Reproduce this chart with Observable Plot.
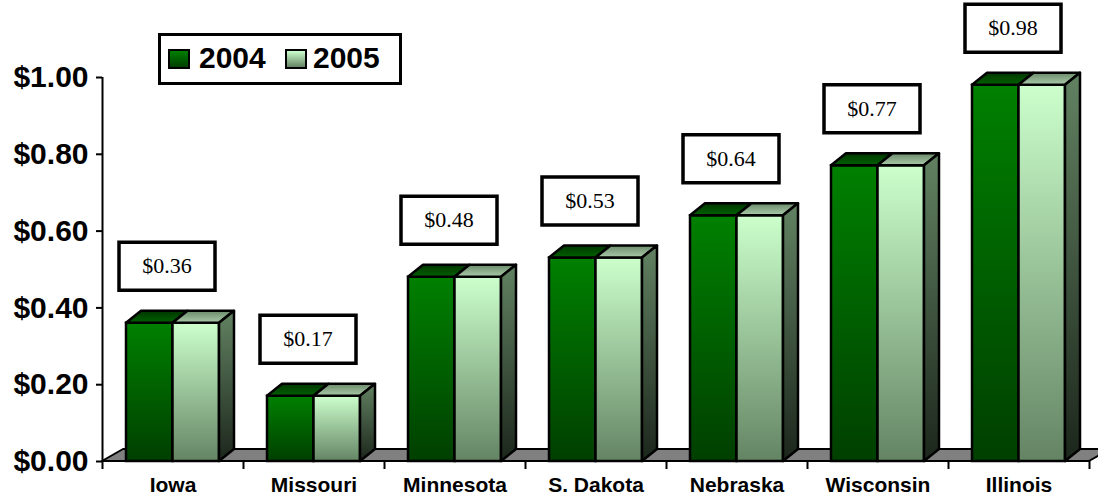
<!DOCTYPE html>
<html><head><meta charset="utf-8">
<script src="https://cdn.jsdelivr.net/npm/d3@7"></script>
<script src="https://cdn.jsdelivr.net/npm/@observablehq/plot@0.6"></script>
<style>
body{margin:0;background:#fff;}
#wrap{position:relative;width:1098px;height:500px;}
#legend{position:absolute;left:158px;top:33px;width:238px;height:46px;border:3px solid #000;background:#fff;font-family:'Liberation Sans',Arial,sans-serif;font-weight:bold;font-size:30px;}
.sw{position:absolute;top:13px;width:18px;height:16px;border:2px solid #000;}
.lt{position:absolute;top:5px;line-height:34px;}
</style>
</head><body>
<div id="wrap">
<div id="legend">
  <div class="sw" style="left:7px;background:linear-gradient(#008000,#003f00);"></div><div class="lt" style="left:38px;">2004</div>
  <div class="sw" style="left:124px;background:linear-gradient(#ccffcc,#648464);"></div><div class="lt" style="left:152px;">2005</div>
</div>
</div>
<script>
const states = ["Iowa","Missouri","Minnesota","S. Dakota","Nebraska","Wisconsin","Illinois"];
const years = ["2004","2005"];
const values2004 = [0.36,0.17,0.48,0.53,0.64,0.77,0.98];
const values2005 = [0.36,0.17,0.48,0.53,0.64,0.77,0.98];
const yTicks = [0,0.2,0.4,0.6,0.8,1.0];

const W=1098,H=500,ML=102,MR=9,MT=77,MB=39;
const xUnit=(W-ML-MR)/states.length, yUnit=(H-MT-MB);
const BW=46.5/xUnit, DX=15/xUnit, DY=12/yUnit, FDX=21/xUnit, FDY=12/yUnit;

const rows = states.map((s,i)=>({i, s, v4: values2004[i], v5: values2005[i]}));
const top04=[], top05=[], side=[];
rows.forEach(r=>{
  const L=r.i-BW, M=r.i, R=r.i+BW;
  top04.push({id:r.s, y:r.v4, x1:L, x2:M},{id:r.s, y:r.v4+DY, x1:L+DX, x2:M+DX});
  top05.push({id:r.s, y:r.v5, x1:M, x2:R},{id:r.s, y:r.v5+DY, x1:M+DX, x2:R+DX});
  side.push({id:r.s, x:R, y1:0, y2:r.v5},{id:r.s, x:R+DX, y1:DY, y2:r.v5+DY});
});
const floor=[{y:0,x1:-0.5,x2:states.length-0.5},{y:FDY,x1:-0.5+FDX,x2:states.length-0.5+FDX}];
const bounds=d3.range(states.length+1).map(i=>i-0.5);

const boxSymbol={draw(ctx){ctx.moveTo(-48,-24);ctx.lineTo(48,-24);ctx.lineTo(48,24);ctx.lineTo(-48,24);ctx.closePath();}};
const LDX=-6, LDY=-57;
const outline={stroke:"black",strokeWidth:2.5};

const svg = Plot.plot({
  width:W,height:H,marginLeft:ML,marginRight:MR,marginTop:MT,marginBottom:MB,
  style:{background:"white",fontFamily:"'Liberation Sans',Arial,sans-serif",overflow:"hidden"},
  x:{type:"linear",domain:[-0.5,states.length-0.5],axis:null,label:null},
  y:{domain:[0,1],axis:null,label:null},
  marks:[
    Plot.areaX(floor,{y:"y",x1:"x1",x2:"x2",fill:"#808080",stroke:"black",strokeWidth:2}),
    Plot.rect(rows,{x1:d=>d.i-BW,x2:d=>d.i,y1:()=>0,y2:"v4",fill:"url(#f04)",...outline}),
    Plot.rect(rows,{x1:d=>d.i,x2:d=>d.i+BW,y1:()=>0,y2:"v5",fill:"url(#f05)",...outline}),
    Plot.areaX(top04,{y:"y",x1:"x1",x2:"x2",z:"id",fill:"url(#t04)",...outline}),
    Plot.areaX(top05,{y:"y",x1:"x1",x2:"x2",z:"id",fill:"url(#t05)",...outline}),
    Plot.areaY(side,{x:"x",y1:"y1",y2:"y2",z:"id",fill:"url(#s05)",...outline}),
    Plot.dot(rows,{x:"i",y:"v5",dx:LDX,dy:LDY,symbol:boxSymbol,fill:"white",stroke:"black",strokeWidth:3.5}),
    Plot.text(rows,{x:"i",y:"v5",dx:LDX,dy:LDY,text:d=>"$"+d.v5.toFixed(2),fontFamily:"'Liberation Serif','Times New Roman',serif",fontSize:22,fill:"black"}),
    Plot.ruleX([-0.5],{y1:()=>0,y2:()=>1,stroke:"black",strokeWidth:2}),
    Plot.axisY({ticks:yTicks,tickFormat:d=>"$"+d.toFixed(2),fontSize:30,fontWeight:"bold",tickSize:6,tickPadding:8,strokeWidth:2,label:null,fill:"black"}),
    Plot.axisX({ticks:bounds,tickFormat:()=>"",tickSize:8,strokeWidth:2,label:null}),
    Plot.axisX({ticks:d3.range(states.length),tickFormat:i=>states[i],tickSize:0,tickPadding:16,fontSize:21,fontWeight:"bold",label:null,fill:"black"})
  ]
});
const defs=document.createElementNS("http://www.w3.org/2000/svg","defs");
defs.innerHTML=`
<linearGradient id="f04" x1="0" y1="0" x2="0" y2="1"><stop offset="0" stop-color="#008000"/><stop offset="1" stop-color="#003f00"/></linearGradient>
<linearGradient id="f05" x1="0" y1="0" x2="0" y2="1"><stop offset="0" stop-color="#ccffcc"/><stop offset="1" stop-color="#648464"/></linearGradient>
<linearGradient id="t04" x1="0" y1="0" x2="0" y2="1"><stop offset="0" stop-color="#003500"/><stop offset="1" stop-color="#006200"/></linearGradient>
<linearGradient id="t05" x1="0" y1="0" x2="0" y2="1"><stop offset="0" stop-color="#6a8a6a"/><stop offset="1" stop-color="#aacaaa"/></linearGradient>
<linearGradient id="s05" x1="0" y1="0" x2="0" y2="1"><stop offset="0" stop-color="#628262"/><stop offset="1" stop-color="#1c261c"/></linearGradient>`;
svg.insertBefore(defs,svg.firstChild);
const wrap=document.getElementById("wrap");
wrap.insertBefore(svg,wrap.firstChild);
svg.style.position="absolute";svg.style.left="0";svg.style.top="0";
</script>
</body></html>
